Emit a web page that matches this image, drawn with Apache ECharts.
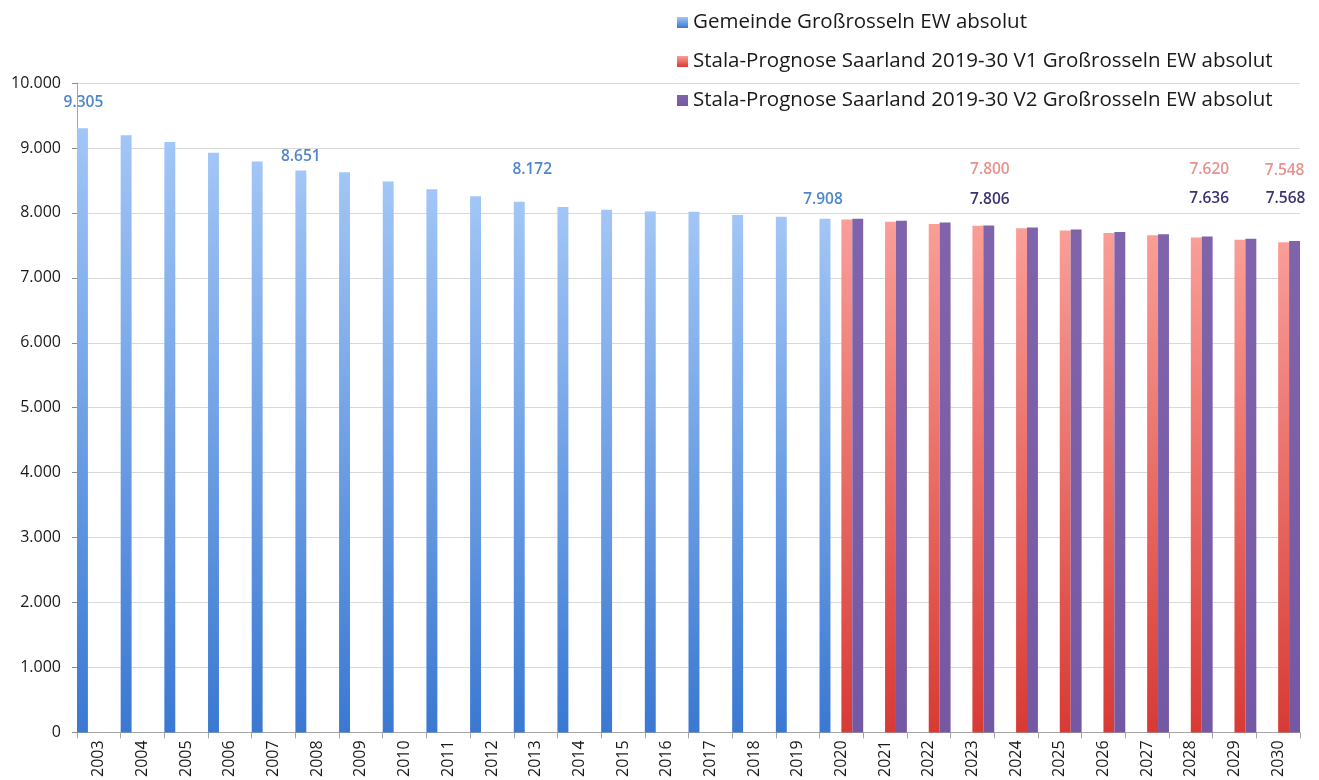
<!DOCTYPE html>
<html>
<head>
<meta charset="utf-8">
<script src="https://cdn.jsdelivr.net/npm/echarts@6/dist/echarts.min.js"></script>
<style>html,body{margin:0;padding:0;background:#fff;}#c{width:1319px;height:780px;}</style>
</head>
<body>
<div id="c"></div>
<script>
var years = ['2003','2004','2005','2006','2007','2008','2009','2010','2011','2012','2013','2014','2015','2016','2017','2018','2019','2020','2021','2022','2023','2024','2025','2026','2027','2028','2029','2030'];
var gemeinde = [9305,9195,9090,8925,8790,8651,8625,8485,8365,8255,8172,8090,8050,8020,8018,7968,7942,7908,null,null,null,null,null,null,null,null,null,null];
var progV1 = [null,null,null,null,null,null,null,null,null,null,null,null,null,null,null,null,null,7900,7865,7830,7800,7765,7730,7690,7655,7620,7585,7548];
var progV2 = [null,null,null,null,null,null,null,null,null,null,null,null,null,null,null,null,null,7908,7878,7850,7806,7775,7745,7705,7672,7636,7600,7568];
var yTicks = [0,1000,2000,3000,4000,5000,6000,7000,8000,9000,10000];
var names = ['Gemeinde Großrosseln EW absolut','Stala-Prognose Saarland 2019-30 V1 Großrosseln EW absolut','Stala-Prognose Saarland 2019-30 V2 Großrosseln EW absolut'];

function fmt(v){ return String(v).replace(/\B(?=(\d{3})+(?!\d))/g, '.'); }

// which bars get a value label, and where (styling only)
var lblBlue = {'2003':[1,-13],'2008':[0,-1],'2013':[13,-19],'2020':[-2,-6]};
var lblV1 = {'2023':[12,-43],'2028':[13,-55],'2030':[1,-59]};
var lblV2 = {'2023':[1,-13],'2028':[2,-25],'2030':[-9,-29]};

function build(arr, lbl, color){
  return arr.map(function(v,i){
    if (v === null) return '-';
    var o = lbl[years[i]];
    if (!o) return v;
    return {value:v, label:{show:true, position:'top', offset:o, color:color, fontSize:15.5, fontWeight:600,
      fontFamily:'Open Sans', formatter:function(p){return fmt(p.value);}}};
  });
}

function grad(top, bottom){
  return new echarts.graphic.LinearGradient(0,0,0,1,[{offset:0,color:top},{offset:1,color:bottom}]);
}

var chart = echarts.init(document.getElementById('c'), null, {renderer:'canvas'});
chart.setOption({
  animation:false,
  backgroundColor:'#fff',
  textStyle:{fontFamily:'Open Sans'},
  grid:{left:77, right:19, top:83, bottom:47, containLabel:false},
  legend:{
    data:names, orient:'vertical', left:672, top:7, itemWidth:11, itemHeight:11, itemGap:18,
    textStyle:{fontSize:20.5, color:'#1a1a1a', fontFamily:'Open Sans'}, icon:'rect', selectedMode:false
  },
  xAxis:{
    type:'category', data:years, boundaryGap:true,
    axisLine:{lineStyle:{color:'#a6a6a6', width:1}},
    axisTick:{show:true, length:6, lineStyle:{color:'#a6a6a6'}},
    axisLabel:{rotate:90, fontSize:16, color:'#1a1a1a', margin:8, interval:0}
  },
  yAxis:{
    type:'value', min:yTicks[0], max:yTicks[yTicks.length-1], interval:yTicks[1]-yTicks[0],
    axisLine:{show:true, lineStyle:{color:'#a6a6a6'}},
    axisTick:{show:true, length:5, lineStyle:{color:'#8c8c8c'}},
    splitLine:{lineStyle:{color:'#d9d9d9'}},
    axisLabel:{fontSize:16, color:'#1a1a1a', margin:16, formatter:function(v){return fmt(v);}}
  },
  series:[
    {name:names[0], type:'bar', barGap:'0%', barCategoryGap:'0%', data:build(gemeinde, lblBlue, '#4f86cc'),
     itemStyle:{color:grad('#a2c6f6','#3a78d2')}},
    {name:'_gap', type:'bar', data:years.map(function(){return '-';})},
    {name:names[1], type:'bar', data:build(progV1, lblV1, '#e8928e'),
     itemStyle:{color:grad('#fa9e98','#d83a34')}},
    {name:names[2], type:'bar', data:build(progV2, lblV2, '#3c3472'),
     itemStyle:{color:grad('#8064ab','#7558a4')}}
  ]
});
</script>
</body>
</html>
